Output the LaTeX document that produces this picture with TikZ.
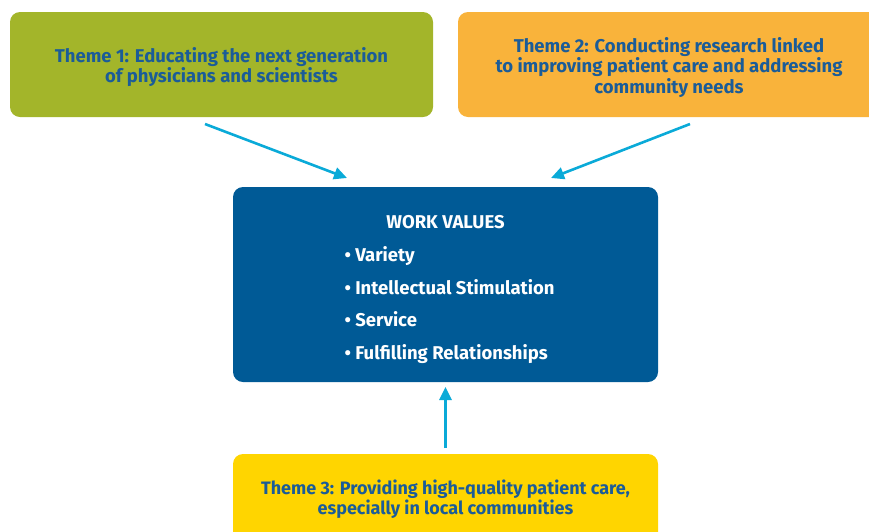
\documentclass[tikz,border=0pt]{standalone}
\usepackage{fontspec}
\setmainfont{Fira Sans}
\usetikzlibrary{arrows.meta}
\definecolor{themegreen}{HTML}{A3B52A}
\definecolor{themeorange}{HTML}{F9B33B}
\definecolor{themeyellow}{HTML}{FFD500}
\definecolor{valueblue}{HTML}{005A96}
\definecolor{textblue}{HTML}{1B5C98}
\definecolor{arrowcyan}{HTML}{0AAAD8}
\tikzset{
  themebox/.style={rounded corners=10pt, inner sep=0pt},
  themetext/.style={inner sep=0pt, align=center, text=textblue,
    font=\fontsize{18.5}{20.5}\selectfont\bfseries},
  valuebox/.style={rounded corners=10pt, fill=valueblue, inner sep=0pt},
  valuetext/.style={text=white, font=\fontsize{18.5}{20}\selectfont\bfseries, anchor=base west},
  link/.style={draw=arrowcyan, line width=2.6pt, -{Triangle[length=13pt,width=12pt]}}
}
\begin{document}
\begin{tikzpicture}[x=1pt,y=-1pt]
  \useasboundingbox (0,0) rectangle (869,531);
  \clip (0,0) rectangle (869,531);
  % theme boxes
  \node[themebox, fill=themegreen, minimum width=423pt, minimum height=105pt] (t1) at (221.5,64.5) {};
  \node[themetext] (t1l) at (221.5,67) {Theme 1: Educating the next generation\\of physicians and scientists};
  \node[themebox, fill=themeorange, minimum width=422pt, minimum height=105pt] (t2) at (669,64.5) {};
  \node[themetext] (t2l) at (669,67.5) {Theme 2: Conducting research linked\\to improving patient care and addressing\\community needs};
  \node[themebox, fill=themeyellow, minimum width=425pt, minimum height=88pt] (t3) at (445.5,498) {};
  \node[themetext, font=\fontsize{18}{20.5}\selectfont\bfseries] (t3l) at (445.5,499) {Theme 3: Providing high-quality patient care,\\especially in local communities};
  % work values box
  \node[valuebox, minimum width=425pt, minimum height=195pt] (wv) at (445.5,284.5) {};
  \node[text=white, font=\fontsize{18.5}{20}\selectfont\bfseries, anchor=base] (wvt) at (445.5,228) {WORK VALUES};
  \node[valuetext] (v1) at (341,261) {\textbullet\ Variety};
  \node[valuetext] (v2) at (341,294) {\textbullet\ Intellectual Stimulation};
  \node[valuetext] (v3) at (341,326.5) {\textbullet\ Service};
  \node[valuetext] (v4) at (341,359) {\textbullet\ Fulfilling Relationships};
  % connectors
  \coordinate (a1s) at (205,124);
  \coordinate (a1e) at (347,178);
  \coordinate (a2s) at (690,124);
  \coordinate (a2e) at (551,178);
  \coordinate (a3s) at (445.5,448);
  \coordinate (a3e) at (445.5,387);
  \draw[link] (a1s) -- (a1e);
  \draw[link] (a2s) -- (a2e);
  \draw[link] (a3s) -- (a3e);
\end{tikzpicture}
\end{document}
